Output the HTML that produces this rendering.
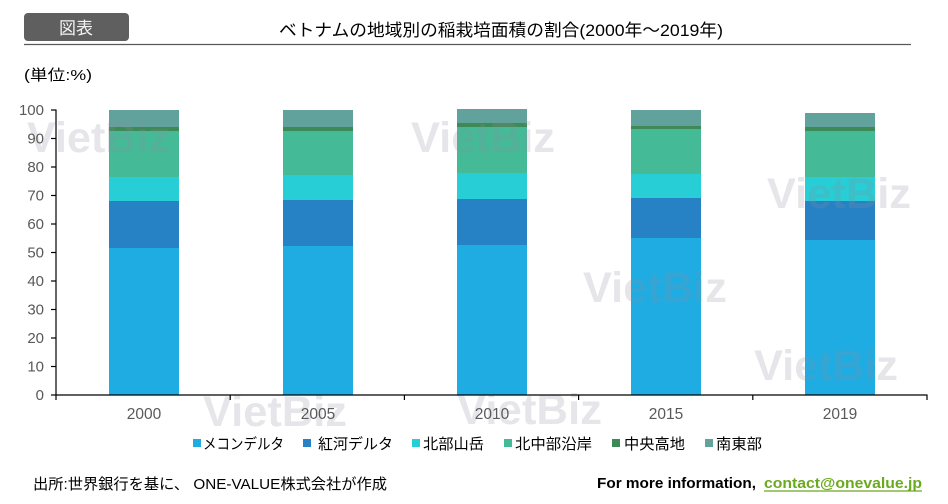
<!DOCTYPE html>
<html><head><meta charset="utf-8"><style>
html,body{margin:0;padding:0;background:#fff;width:948px;height:504px;overflow:hidden}
svg{display:block}
text{font-family:"Liberation Sans","Noto Sans CJK JP",sans-serif}
</style></head><body>
<svg width="948" height="504" viewBox="0 0 948 504" xmlns="http://www.w3.org/2000/svg">
<!-- header -->
<rect x="24" y="13" width="105" height="28" rx="4" fill="#5f5f5f"/>
<text x="76" y="34" font-size="17" fill="#f2f2f2" text-anchor="middle">図表</text>
<line x1="24" y1="44.5" x2="911" y2="44.5" stroke="#595959" stroke-width="1.3"/>
<text x="279" y="36" font-size="17" fill="#000" textLength="444" lengthAdjust="spacingAndGlyphs">ベトナムの地域別の稲栽培面積の割合(2000年～2019年)</text>
<text x="24" y="80" font-size="15" fill="#000" textLength="68" lengthAdjust="spacingAndGlyphs">(単位:%)</text>

<!-- bars -->
<g>
<!-- 2000 -->
<rect x="109" y="248" width="70" height="147" fill="#1eace2"/>
<rect x="109" y="201" width="70" height="47" fill="#2682c5"/>
<rect x="109" y="177" width="70" height="24" fill="#27ced6"/>
<rect x="109" y="131" width="70" height="46" fill="#44ba96"/>
<rect x="109" y="127" width="70" height="4" fill="#3e8a56"/>
<rect x="109" y="110" width="70" height="17" fill="#62a29d"/>
<!-- 2005 -->
<rect x="283" y="246" width="70" height="149" fill="#1eace2"/>
<rect x="283" y="200" width="70" height="46" fill="#2682c5"/>
<rect x="283" y="175" width="70" height="25" fill="#27ced6"/>
<rect x="283" y="131" width="70" height="44" fill="#44ba96"/>
<rect x="283" y="127" width="70" height="4" fill="#3e8a56"/>
<rect x="283" y="110" width="70" height="17" fill="#62a29d"/>
<!-- 2010 -->
<rect x="457" y="245" width="70" height="150" fill="#1eace2"/>
<rect x="457" y="199" width="70" height="46" fill="#2682c5"/>
<rect x="457" y="173" width="70" height="26" fill="#27ced6"/>
<rect x="457" y="127" width="70" height="46" fill="#44ba96"/>
<rect x="457" y="123" width="70" height="4" fill="#3e8a56"/>
<rect x="457" y="109" width="70" height="14" fill="#62a29d"/>
<!-- 2015 -->
<rect x="631" y="238" width="70" height="157" fill="#1eace2"/>
<rect x="631" y="198" width="70" height="40" fill="#2682c5"/>
<rect x="631" y="174" width="70" height="24" fill="#27ced6"/>
<rect x="631" y="129" width="70" height="45" fill="#44ba96"/>
<rect x="631" y="126" width="70" height="3" fill="#3e8a56"/>
<rect x="631" y="110" width="70" height="16" fill="#62a29d"/>
<!-- 2019 -->
<rect x="805" y="240" width="70" height="155" fill="#1eace2"/>
<rect x="805" y="201" width="70" height="39" fill="#2682c5"/>
<rect x="805" y="177" width="70" height="24" fill="#27ced6"/>
<rect x="805" y="131" width="70" height="46" fill="#44ba96"/>
<rect x="805" y="127" width="70" height="4" fill="#3e8a56"/>
<rect x="805" y="113" width="70" height="14" fill="#62a29d"/>
</g>

<!-- watermarks -->
<g font-size="43" font-weight="bold" fill="rgb(140,140,160)" fill-opacity="0.22">
<text x="27" y="152" textLength="143" lengthAdjust="spacingAndGlyphs">VietBiz</text>
<text x="411" y="152" textLength="144" lengthAdjust="spacingAndGlyphs">VietBiz</text>
<text x="767" y="208" textLength="144" lengthAdjust="spacingAndGlyphs">VietBiz</text>
<text x="583" y="302" textLength="144" lengthAdjust="spacingAndGlyphs">VietBiz</text>
<text x="754" y="380" textLength="144" lengthAdjust="spacingAndGlyphs">VietBiz</text>
<text x="203" y="426" textLength="144" lengthAdjust="spacingAndGlyphs">VietBiz</text>
<text x="457" y="424" textLength="145" lengthAdjust="spacingAndGlyphs">VietBiz</text>
</g>

<!-- axes -->
<g stroke="#000" stroke-width="1.2">
<line x1="56" y1="109.5" x2="56" y2="395"/>
<line x1="56" y1="395" x2="927.5" y2="395"/>
<line x1="51" y1="395" x2="56" y2="395"/>
<line x1="51" y1="366.5" x2="56" y2="366.5"/>
<line x1="51" y1="338" x2="56" y2="338"/>
<line x1="51" y1="309.5" x2="56" y2="309.5"/>
<line x1="51" y1="281" x2="56" y2="281"/>
<line x1="51" y1="252.5" x2="56" y2="252.5"/>
<line x1="51" y1="224" x2="56" y2="224"/>
<line x1="51" y1="195.5" x2="56" y2="195.5"/>
<line x1="51" y1="167" x2="56" y2="167"/>
<line x1="51" y1="138.5" x2="56" y2="138.5"/>
<line x1="51" y1="110" x2="56" y2="110"/>
<line x1="56" y1="395" x2="56" y2="400"/>
<line x1="230.2" y1="395" x2="230.2" y2="400"/>
<line x1="404.4" y1="395" x2="404.4" y2="400"/>
<line x1="578.6" y1="395" x2="578.6" y2="400"/>
<line x1="752.8" y1="395" x2="752.8" y2="400"/>
<line x1="927" y1="395" x2="927" y2="400"/>
</g>
<g font-size="15" fill="#595959" text-anchor="end">
<text x="44" y="400">0</text>
<text x="44" y="371.5">10</text>
<text x="44" y="343">20</text>
<text x="44" y="314.5">30</text>
<text x="44" y="286">40</text>
<text x="44" y="257.5">50</text>
<text x="44" y="229">60</text>
<text x="44" y="200.5">70</text>
<text x="44" y="172">80</text>
<text x="44" y="143.5">90</text>
<text x="44" y="115">100</text>
</g>
<g font-size="15.5" fill="#595959" text-anchor="middle">
<text x="144" y="419">2000</text>
<text x="318" y="419">2005</text>
<text x="492" y="419">2010</text>
<text x="666" y="419">2015</text>
<text x="840" y="419">2019</text>
</g>

<!-- legend -->
<rect x="193" y="439" width="8" height="8" fill="#1eace2"/>
<rect x="303" y="439" width="8" height="8" fill="#2682c5"/>
<rect x="412" y="439" width="8" height="8" fill="#27ced6"/>
<rect x="504" y="439" width="8" height="8" fill="#44ba96"/>
<rect x="612" y="439" width="8" height="8" fill="#3e8a56"/>
<rect x="705" y="439" width="8" height="8" fill="#62a29d"/>
<g font-size="15" fill="#000">
<text x="203" y="449" textLength="81" lengthAdjust="spacingAndGlyphs">メコンデルタ</text>
<text x="318" y="449" textLength="75" lengthAdjust="spacingAndGlyphs">紅河デルタ</text>
<text x="423" y="449" textLength="61" lengthAdjust="spacingAndGlyphs">北部山岳</text>
<text x="515" y="449" textLength="77" lengthAdjust="spacingAndGlyphs">北中部沿岸</text>
<text x="624" y="449" textLength="61" lengthAdjust="spacingAndGlyphs">中央高地</text>
<text x="716" y="449" textLength="46" lengthAdjust="spacingAndGlyphs">南東部</text>
</g>

<!-- footer -->
<text x="33" y="489" font-size="15" fill="#000" textLength="354" lengthAdjust="spacingAndGlyphs">出所:世界銀行を基に、 ONE-VALUE株式会社が作成</text>
<text x="597" y="488" font-size="15" font-weight="bold" fill="#000" textLength="159" lengthAdjust="spacingAndGlyphs">For more information,</text>
<text x="764" y="488" font-size="15" font-weight="bold" fill="#6aaa1e" textLength="158" lengthAdjust="spacingAndGlyphs">contact@onevalue.jp</text>
<line x1="764" y1="491" x2="922" y2="491" stroke="#6aaa1e" stroke-width="1.2"/>
</svg>
</body></html>
